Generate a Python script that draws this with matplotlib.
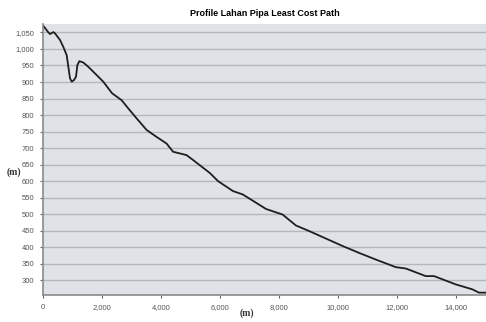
import matplotlib.pyplot as plt
from matplotlib.ticker import FuncFormatter, MultipleLocator

# Distance along path (m) and elevation (m)
jarak = [0, 190, 247, 360, 416, 585, 696, 810, 865, 922, 980, 1057, 1125, 1170,
         1237, 1372, 1541, 1824, 2047, 2345, 2669, 2895, 3176, 3514, 3851, 4189,
         4412, 4865, 5088, 5652, 5935, 6440, 6767, 7217, 7555, 8119, 8570, 9022,
         9471, 10147, 10710, 11272, 11948, 12285, 12961, 13243, 13973, 14537,
         14763, 15000]
elevasi = [1072, 1050, 1045, 1051, 1047, 1027, 1006, 981, 946, 911, 901, 906,
           916, 951, 963, 959, 946, 921, 901, 866, 845, 820, 790, 755, 734, 714,
           689, 679, 664, 625, 600, 570, 560, 535, 516, 499, 466, 449, 431, 404,
           383, 363, 340, 336, 313, 313, 288, 273, 263, 263]

fig = plt.figure(figsize=(4.86, 3.22), dpi=100)
ax = fig.add_axes([0.088, 0.083, 0.912, 0.842])
ax.set_facecolor("#dfe2e6")

ax.plot(jarak, elevasi, color="#1e1e1e", linewidth=1.3)

ax.set_xlim(0, 15000)
ax.set_ylim(255, 1075)
ax.xaxis.set_major_locator(MultipleLocator(2000))
ax.yaxis.set_major_locator(MultipleLocator(50))
ax.yaxis.set_major_formatter(FuncFormatter(lambda v, p: f"{int(v):,}"))
ax.xaxis.set_major_formatter(FuncFormatter(lambda v, p: f"{int(v):,}"))
ax.set_ylim(255, 1075)

ax.grid(axis="y", color="#b4b8bc", linewidth=1.0)
ax.set_axisbelow(True)
for side in ["top", "right"]:
    ax.spines[side].set_visible(False)
for side in ["left", "bottom"]:
    ax.spines[side].set_color("#8a8a8a")
    ax.spines[side].set_linewidth(1.2)
ax.tick_params(labelsize=5.5, colors="#666666", length=2.5, width=0.8,
               labelcolor="#555555")

ax.set_title("Profile Lahan Pipa Least Cost Path", fontsize=6.5,
             fontweight="bold", fontfamily="Liberation Sans", pad=6)
ax.set_ylabel("(m)", fontsize=7, fontfamily="Liberation Serif",
              fontweight="bold", rotation=0, va="center", color="#333333")
ax.yaxis.set_label_coords(-0.065, 0.455)
ax.set_xlabel("(m)", fontsize=7, fontfamily="Liberation Serif",
              fontweight="bold", color="#333333")
ax.xaxis.set_label_coords(0.461, -0.05)
for lbl in ax.get_xticklabels() + ax.get_yticklabels():
    lbl.set_fontfamily("Liberation Sans")

fig.savefig("out.png", dpi=100)
